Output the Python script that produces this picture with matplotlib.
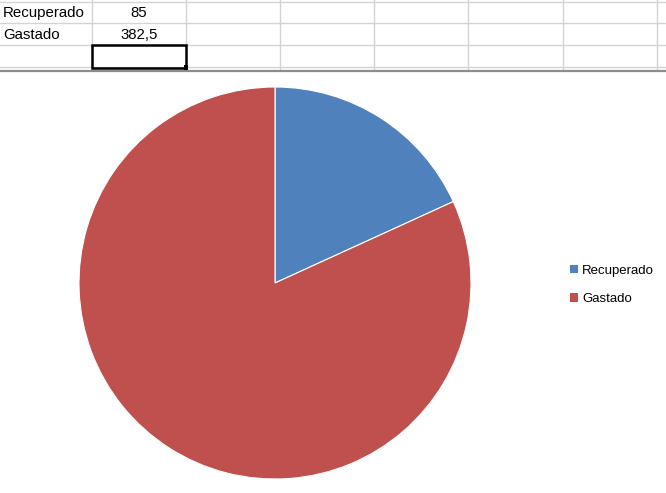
import matplotlib
matplotlib.use("Agg")
import matplotlib.pyplot as plt
from matplotlib.patches import Rectangle, Patch

# ── Data ──────────────────────────────────────────────────────────────────────
labels = ["Recuperado", "Gastado"]
values = [85, 382.5]
colors = ["#4F81BD", "#C0504D"]

W, H = 666, 493
plt.rcParams["font.family"] = ["Liberation Sans", "DejaVu Sans"]

fig = plt.figure(figsize=(W / 100, H / 100), dpi=100)

# background "sheet" axes in pixel coords
bg = fig.add_axes([0, 0, 1, 1])
bg.set_xlim(0, W)
bg.set_ylim(H, 0)
bg.axis("off")

grid_c = "#D4D4D4"
col_x = [92, 186, 280, 374, 468, 563, 657]
row_y = [1.7, 23.3, 45, 67.3]
for x in col_x:
    bg.plot([x, x], [0, 71], color=grid_c, lw=1)
for y in row_y:
    bg.plot([0, W], [y, y], color=grid_c, lw=1)
bg.plot([0, W], [71, 71], color="#8C8C8C", lw=1.6)

# cell contents
for i, (lab, val) in enumerate(zip(labels, values)):
    yc = (row_y[i] + row_y[i + 1]) / 2 + 0.5
    bg.text(3, yc, lab, fontsize=10.8, ha="left", va="center", color="black")
    txt = f"{val:g}".replace(".", ",")
    bg.text(139, yc, txt, fontsize=10.8, ha="center", va="center", color="black")

# selected cell
bg.add_patch(Rectangle((92, 45), 94, 22.5, fill=False, ec="black", lw=1.8, zorder=5))
bg.add_patch(Rectangle((183.5, 65), 4.5, 4.5, fc="black", ec="none", zorder=6))

# ── Pie ───────────────────────────────────────────────────────────────────────
cx, cy, r = 275, 283, 196
ax = fig.add_axes([(cx - r) / W, (H - cy - r) / H, 2 * r / W, 2 * r / H])
ax.pie(values, colors=colors, startangle=90, counterclock=False,
       wedgeprops=dict(edgecolor="white", linewidth=0.8))
ax.set_xlim(-1, 1)
ax.set_ylim(-1, 1)
ax.set_aspect("auto")
ax.axis("off")

handles = [Patch(facecolor=c, edgecolor="none") for c in colors]
fig.legend(handles, labels, loc="upper left",
           bbox_to_anchor=(563 / W, 1 - 258 / H), frameon=False,
           fontsize=9.5, handlelength=0.6, handleheight=0.6,
           handletextpad=0.35, labelspacing=1.25, borderpad=0)

fig.savefig("out.png", dpi=100)
